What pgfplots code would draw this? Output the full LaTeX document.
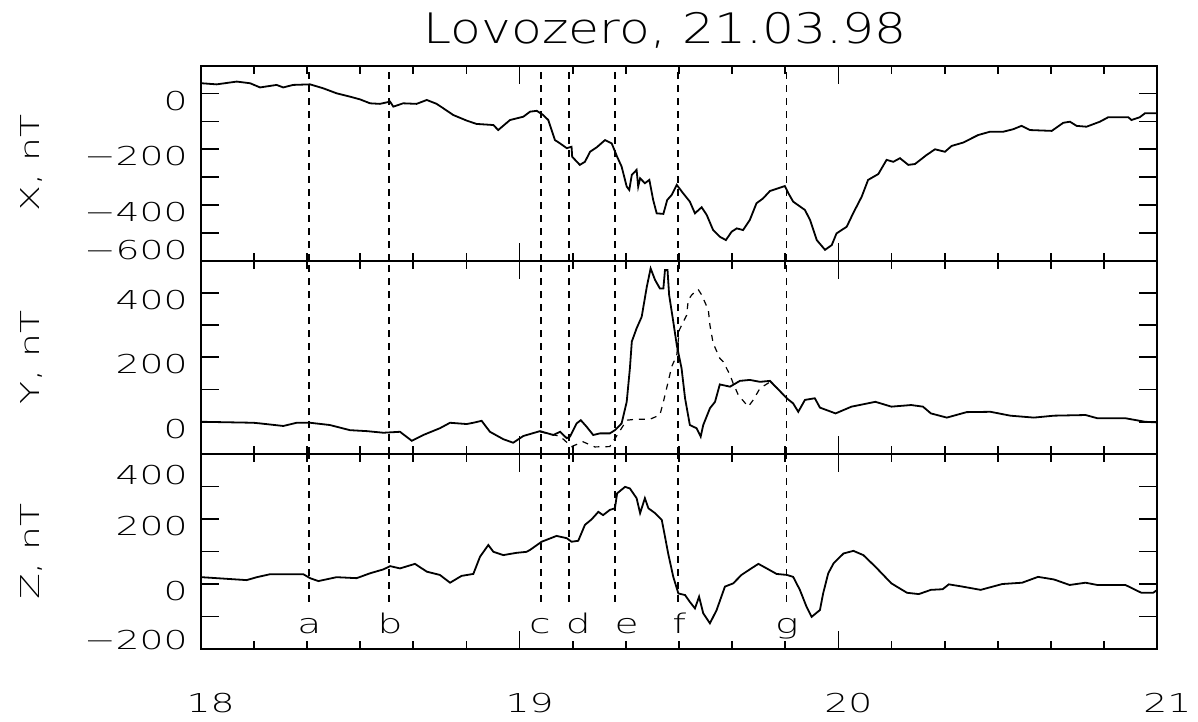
\documentclass[border=0pt]{standalone}
\usepackage{fontspec}
\setmainfont{DejaVu Sans ExtraLight}[FakeStretch=1.45]
\newfontfamily\titlefont{DejaVu Sans ExtraLight}[FakeStretch=1.2]
\usepackage{pgfplots}
\usepackage{pgfplotstable}
\pgfplotsset{compat=1.18}

% shifted tick label: #1 = shift of the label against its tick
\newcommand\yl[2]{\raisebox{\dimexpr#1-4.75pt\relax}[0pt][0pt]{#2}}

% X component, nT
\pgfplotstableread{
h X
18.003 37
18.050 33
18.113 43
18.155 37
18.186 22
18.238 31
18.259 22
18.290 31
18.343 33
18.384 19
18.426 1
18.468 -11
18.500 -21
18.531 -35
18.562 -37
18.594 -29
18.604 -47
18.635 -35
18.677 -37
18.709 -23
18.740 -37
18.761 -53
18.792 -77
18.834 -97
18.865 -109
18.918 -113
18.933 -131
18.970 -95
19.012 -83
19.033 -65
19.054 -62
19.074 -77
19.090 -95
19.111 -167
19.127 -179
19.148 -196
19.163 -191
19.165 -227
19.189 -256
19.205 -245
19.221 -209
19.242 -193
19.268 -167
19.289 -179
19.306 -227
19.320 -262
19.336 -334
19.344 -346
19.352 -292
19.367 -274
19.372 -334
19.378 -304
19.393 -322
19.407 -310
19.419 -382
19.430 -430
19.451 -432
19.463 -382
19.477 -364
19.493 -328
19.513 -358
19.534 -388
19.550 -430
19.571 -408
19.587 -436
19.607 -490
19.628 -514
19.647 -526
19.665 -496
19.681 -484
19.701 -490
19.722 -454
19.743 -394
19.764 -376
19.785 -350
19.811 -340
19.832 -332
19.843 -358
19.858 -388
19.895 -418
19.911 -454
19.932 -526
19.958 -561
19.979 -544
19.994 -502
20.026 -478
20.046 -430
20.073 -370
20.093 -310
20.125 -289
20.151 -238
20.172 -245
20.193 -232
20.219 -256
20.240 -253
20.277 -220
20.303 -200
20.334 -209
20.355 -188
20.391 -176
20.438 -149
20.475 -137
20.517 -137
20.548 -128
20.574 -116
20.601 -131
20.669 -134
20.705 -105
20.726 -101
20.747 -116
20.778 -119
20.820 -101
20.846 -85
20.909 -85
20.919 -95
20.945 -85
20.961 -71
21.000 -71
}\xdata

% Y component, nT
\pgfplotstableread{
h Y
18.003 0
18.165 -3
18.186 -5
18.259 -13
18.301 -3
18.343 -3
18.405 -10
18.468 -26
18.521 -29
18.573 -34
18.625 -31
18.662 -59
18.698 -41
18.750 -20
18.782 -3
18.834 -7
18.855 -3
18.881 3
18.907 -31
18.949 -54
18.980 -65
19.012 -44
19.064 -29
19.106 -41
19.127 -31
19.148 -51
19.158 -46
19.179 -5
19.192 5
19.210 -15
19.231 -41
19.252 -36
19.283 -36
19.299 -26
19.320 -5
19.336 62
19.346 166
19.352 249
19.367 290
19.383 326
19.399 419
19.411 476
19.425 440
19.440 414
19.451 414
19.456 471
19.464 471
19.469 394
19.482 311
19.493 238
19.508 166
19.519 73
19.534 -10
19.555 -20
19.568 -46
19.576 -10
19.597 42
19.613 62
19.628 116
19.660 109
19.691 127
19.722 130
19.754 124
19.785 127
19.806 106
19.838 73
19.858 57
19.874 31
19.895 68
19.926 73
19.942 44
19.991 26
20.041 47
20.116 62
20.166 47
20.228 52
20.265 47
20.290 26
20.340 13
20.402 30
20.477 31
20.539 19
20.613 13
20.676 19
20.775 21
20.812 11
20.900 11
20.962 0
21.000 -2
}\ydata

% second Y trace (dashed)
\pgfplotstableread{
h Y
19.064 -31
19.127 -45
19.163 -77
19.199 -62
19.236 -78
19.283 -77
19.336 5
19.367 8
19.409 8
19.440 21
19.451 62
19.466 124
19.477 171
19.493 207
19.501 285
19.524 331
19.529 378
19.540 394
19.560 411
19.571 394
19.592 347
19.597 300
19.607 244
19.628 197
19.639 186
19.660 145
19.670 119
19.686 83
19.717 47
19.733 68
19.754 104
19.786 124
19.806 106
19.838 73
19.858 57
}\ydashdata

% Z component, nT
\pgfplotstableread{
h Z
18.003 21
18.144 12
18.176 21
18.217 30
18.322 30
18.343 18
18.369 9
18.426 21
18.489 18
18.531 33
18.573 45
18.594 55
18.625 48
18.672 62
18.709 38
18.750 28
18.782 4
18.818 25
18.855 31
18.876 84
18.902 120
18.918 99
18.949 89
18.991 96
19.022 99
19.033 105
19.069 130
19.116 148
19.148 141
19.163 130
19.184 133
19.205 182
19.226 199
19.247 222
19.262 212
19.283 228
19.299 233
19.306 279
19.331 299
19.346 294
19.367 264
19.378 218
19.393 264
19.404 233
19.425 218
19.446 197
19.456 146
19.466 94
19.482 22
19.498 -29
19.519 -34
19.534 -55
19.550 -75
19.563 -39
19.576 -90
19.597 -121
19.618 -80
19.644 -8
19.670 2
19.696 28
19.722 45
19.749 62
19.775 48
19.806 31
19.838 28
19.858 22
19.879 -18
19.900 -70
19.916 -101
19.942 -80
19.952 -29
19.968 33
19.985 64
20.016 94
20.047 102
20.078 89
20.116 53
20.166 2
20.215 -27
20.252 -31
20.290 -18
20.327 -16
20.346 -1
20.389 -8
20.446 -18
20.514 0
20.576 4
20.626 22
20.676 14
20.725 -3
20.775 4
20.812 -3
20.900 -3
20.950 -27
20.987 -27
21.000 -18
}\zdata

\pgfplotsset{
  panel/.style={
    scale only axis, width=478.3pt,
    xmin=18, xmax=21,
    xtick={18,19,20,21}, minor x tick num=5,
    major tick length=9pt, minor tick length=4pt,
    tick align=inside,
    axis line style={line width=0.9pt},
    tick style={line width=0.9pt, black},
    tick label style={font=\fontsize{13}{15}\selectfont},
    yticklabel style={xshift=-3pt},
    ylabel style={at={(axis description cs:-0.1764,0.5)}, anchor=center,
                  font=\fontsize{13}{15}\selectfont},
    anchor=north west,
  },
  curve/.style={black, line width=0.9pt},
  evline/.style={black, line width=0.9pt, dash pattern=on 3.5pt off 3pt, forget plot},
}

\begin{document}
\begin{tikzpicture}
\path[use as bounding box] (0,0) rectangle (599pt,-361pt);

\node[anchor=base] at (332.5pt,-22pt) {\titlefont\fontsize{21}{24}\selectfont Lovozero, 21.03.98};

% X panel
\begin{axis}[panel, at={(100.35pt,-32.85pt)}, height=97.5pt,
  ymin=-600, ymax=100,
  ytick={-600,-500,...,100},
  yticklabels={\yl{5.35pt}{−600},,\yl{-3.5pt}{−400},,\yl{-3.5pt}{−200},,\yl{-3.5pt}{0},},
  xticklabels={},
  ylabel={X, nT}]
\pgfplotsinvokeforeach{18.340,18.590,19.066,19.154,19.300,19.498,19.837}{
  \addplot[evline] coordinates {(#1,-600) (#1,100)};
}
\addplot[curve] table[x=h, y=X] {\xdata};
\end{axis}

% Y panel
\begin{axis}[panel, at={(100.35pt,-130.35pt)}, height=96.65pt,
  ymin=-100, ymax=500,
  ytick={-100,0,...,500},
  yticklabels={,\yl{-3.5pt}{0},,\yl{-3.5pt}{200},,\yl{-3.5pt}{400},},
  xticklabels={},
  ylabel={Y, nT}]
\pgfplotsinvokeforeach{18.340,18.590,19.066,19.154,19.300,19.498,19.837}{
  \addplot[evline] coordinates {(#1,-100) (#1,500)};
}
\addplot[black, line width=0.6pt, dash pattern=on 3pt off 3pt] table[x=h, y=Y] {\ydashdata};
\addplot[curve] table[x=h, y=Y] {\ydata};
\end{axis}

% Z panel
\begin{axis}[panel, at={(100.35pt,-227pt)}, height=97.5pt,
  ymin=-200, ymax=400,
  ytick={-200,-100,...,400},
  yticklabels={\yl{4.5pt}{−200},,\yl{-3.5pt}{0},,\yl{-3.5pt}{200},,\yl{-10.5pt}{400}},
  xticklabels={18,19,20,21},
  xticklabel style={xshift=5pt, yshift=-18.5pt},
  ylabel={Z, nT}]
\pgfplotsinvokeforeach{18.340,18.590,19.066,19.154,19.300,19.498,19.837}{
  \addplot[evline] coordinates {(#1,-55) (#1,400)};
}
\addplot[curve] table[x=h, y=Z] {\zdata};
\begin{scope}[font=\fontsize{13.5}{15}\selectfont]
\node[anchor=base] at (axis cs:18.341,-152) {a};
\node[anchor=base] at (axis cs:18.594,-152) {b};
\node[anchor=base] at (axis cs:19.064,-152) {c};
\node[anchor=base] at (axis cs:19.184,-152) {d};
\node[anchor=base] at (axis cs:19.336,-152) {e};
\node[anchor=base] at (axis cs:19.501,-152) {f};
\node[anchor=base] at (axis cs:19.838,-152) {g};
\end{scope}
\end{axis}
\end{tikzpicture}
\end{document}
